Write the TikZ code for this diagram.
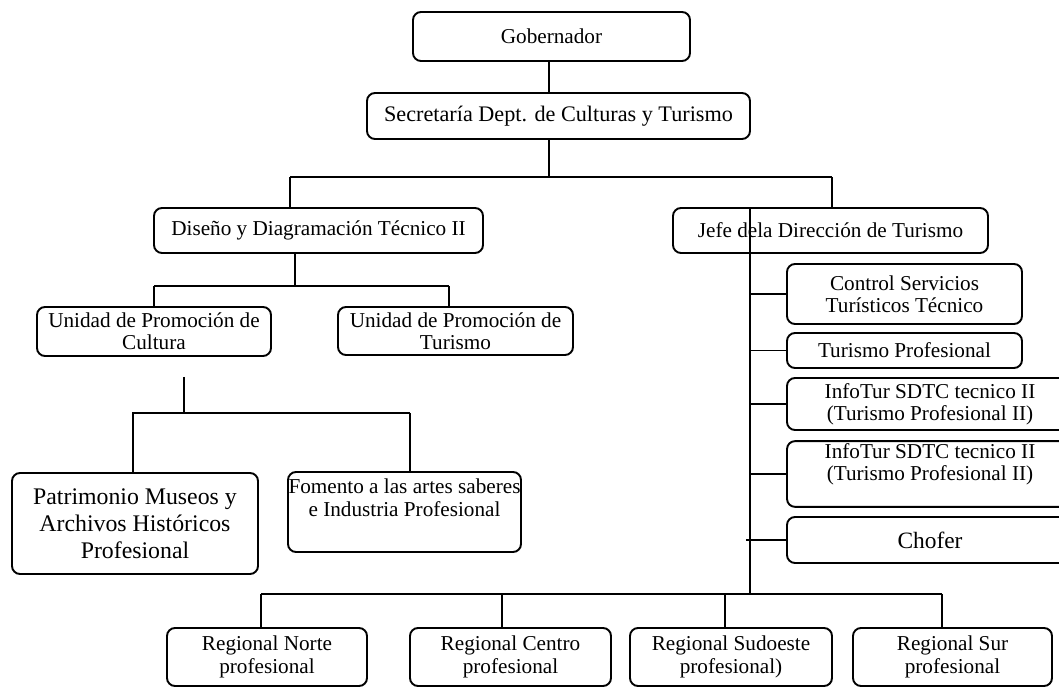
\documentclass[tikz,border=0pt]{standalone}
\usepackage{fontspec}
\setmainfont{Liberation Serif}
\begin{document}
\begin{tikzpicture}[x=0.5pt,y=-0.5pt,
    org/.style={draw,rounded corners=4pt,line width=0.95pt,align=center,inner sep=1pt,
      font=\fontsize{10.6}{11.2}\selectfont},
    bigorg/.style={org,font=\fontsize{11.9}{13.4}\selectfont},
    lnk/.style={line width=0.95pt}
  ]
  \useasboundingbox (0,0) rectangle (1059,688);

  % top
  \node[org,minimum width=138.5pt,minimum height=24.5pt] (gob) at (551.5,36.5) {Gobernador};
  \node[org,minimum width=191.5pt,minimum height=23pt,font=\fontsize{11.1}{12}\selectfont]
    (sec) at (558.5,116) {Secretaría Dept. de Culturas y Turismo};
  \node[org,minimum width=164.5pt,minimum height=22.5pt] (dis) at (318.5,230.5) {Diseño y Diagramación Técnico II};
  \node[org,minimum width=157.5pt,minimum height=22.5pt] (jefe) at (830.5,230.5) {Jefe dela Dirección de Turismo};

  % left branch
  \node[org,minimum width=117pt,minimum height=24.5pt] (ucul) at (154,331.5) {Unidad de Promoción de\\Cultura};
  \node[org,minimum width=117.5pt,minimum height=24pt] (utur) at (455.5,331) {Unidad de Promoción de\\Turismo};
  \node[bigorg,minimum width=123pt,minimum height=50.5pt] (pat) at (135,523.5) {Patrimonio Museos y\\Archivos Históricos\\Profesional};
  \node[org,inner xsep=0pt,minimum width=116.5pt,minimum height=40pt] (fom) at (404.5,512) {Fomento a las artes saberes\\e Industria Profesional\\[3pt]};

  % right branch
  \node[org,minimum width=117.5pt,minimum height=30pt] (ctrl) at (904.5,294) {Control Servicios\\Turísticos Técnico};
  \node[org,minimum width=117.5pt,minimum height=17.5pt] (turp) at (904.5,350.5) {Turismo Profesional};
  \node[org,minimum width=143pt,minimum height=26pt] (inf1) at (930,404) {InfoTur SDTC tecnico II\\(Turismo Profesional II)};
  \node[org,minimum width=143pt,minimum height=32pt] (inf2) at (930,474) {InfoTur SDTC tecnico II\\(Turismo Profesional II)\\[1pt]};
  \node[org,minimum width=143pt,minimum height=23pt,font=\fontsize{11.7}{12.5}\selectfont] (chof) at (930,540) {Chofer};

  % regionales
  \node[org,minimum width=100pt,minimum height=29pt] (rnor) at (267,657) {Regional Norte\\profesional};
  \node[org,minimum width=100.5pt,minimum height=29pt] (rcen) at (510.5,657) {Regional Centro\\profesional};
  \node[org,minimum width=101pt,minimum height=29pt] (rsud) at (731,657) {Regional Sudoeste\\profesional)};
  \node[org,minimum width=99.5pt,minimum height=29pt] (rsur) at (952.5,657) {Regional Sur\\profesional};

  % connectors
  \coordinate (tb) at (549,177);
  \coordinate (dl) at (290,177);
  \coordinate (dr) at (832,177);
  \draw[lnk] (gob.south -| tb) -- (sec.north -| tb);
  \draw[lnk] (sec.south -| tb) -- (tb);
  \draw[lnk] (dl) -- (dr);
  \draw[lnk] (dl) -- (dl |- dis.north);
  \draw[lnk] (dr) -- (dr |- jefe.north);

  \coordinate (mb) at (295,286);
  \coordinate (ml) at (154,286);
  \coordinate (mr) at (449,286);
  \draw[lnk] (dis.south -| mb) -- (mb);
  \draw[lnk] (ml) -- (mr);
  \draw[lnk] (ml) -- (ucul.north);
  \draw[lnk] (mr) -- (mr |- utur.north);

  \coordinate (cu) at (184,377);
  \coordinate (ll) at (132,413);
  \coordinate (lr) at (410,413);
  \draw[lnk] (cu) -- (cu |- ll);
  \draw[lnk] (ll) -- (lr);
  \draw[lnk] ([xshift=0.5pt]ll) -- ([xshift=0.5pt]ll |- pat.north);
  \draw[lnk] (lr) -- (lr |- fom.north);

  % trunk
  \coordinate (tk) at (750,594);
  \draw[lnk] (tk |- jefe.north) -- (tk);
  \draw[lnk] (ctrl.west -| tk) -- (ctrl.west);
  \draw[lnk] (turp.west -| tk) -- (turp.west);
  \draw[lnk] (inf1.west -| tk) -- (inf1.west);
  \draw[lnk] (inf2.west -| tk) -- (inf2.west);
  \draw[lnk] ([xshift=-2pt]chof.west -| tk) -- (chof.west);

  \coordinate (bl) at (261,594);
  \coordinate (bc) at (502,594);
  \coordinate (bs) at (725,594);
  \coordinate (br) at (942,594);
  \draw[lnk] (bl) -- (br);
  \draw[lnk] (bl) -- (bl |- rnor.north);
  \draw[lnk] (bc) -- (bc |- rcen.north);
  \draw[lnk] (bs) -- (bs |- rsud.north);
  \draw[lnk] (br) -- (br |- rsur.north);
\end{tikzpicture}
\end{document}
